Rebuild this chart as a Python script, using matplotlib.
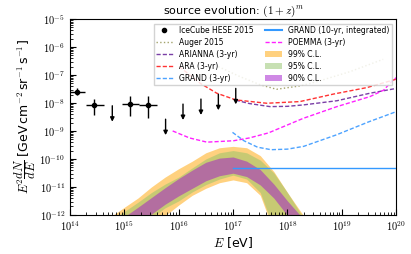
import numpy as np
import matplotlib
matplotlib.use("Agg")
import matplotlib.pyplot as plt
from matplotlib.patches import Patch
from matplotlib.lines import Line2D
from matplotlib.ticker import LogLocator, NullFormatter, FuncFormatter

plt.rcParams['font.family'] = ['DejaVu Sans']
plt.rcParams['mathtext.fontset'] = 'cm'

# IceCube HESE 2015: data points (log10 E [eV], log10 flux)
hese_logE = [14.13, 14.45, 15.11, 15.43]
hese_logE_lo = [14.00, 14.30, 14.96, 15.28]
hese_logE_hi = [14.27, 14.62, 15.27, 15.60]
hese_logF = [-7.60, -8.07, -8.04, -8.06]
hese_logF_lo = [-7.72, -8.43, -8.46, -8.55]
hese_logF_hi = [-7.48, -7.86, -7.75, -7.74]

# IceCube HESE 2015: upper limits
ul_logE = [14.78, 15.76, 16.08, 16.41, 16.73, 17.05]
ul_logF = [-8.10, -8.58, -8.04, -7.86, -7.69, -7.48]
ul_len = 0.57  # decades, arrow length

# sensitivity curves
auger_logE = [16.73, 17.13, 17.50, 17.80, 18.23, 18.54, 19.15, 19.76]
auger_logF = [-6.70, -7.06, -7.35, -7.51, -7.39, -7.24, -6.88, -6.44]

arianna_logE = [17.05, 17.30, 17.68, 18.00, 18.29, 18.91, 19.52, 20.00]
arianna_logF = [-7.90, -8.02, -8.13, -8.12, -8.07, -7.92, -7.65, -7.48]

ara_logE = [16.01, 16.40, 16.70, 17.05, 17.62, 18.23, 18.85, 19.46, 20.00]
ara_logF = [-6.70, -7.30, -7.65, -7.89, -8.01, -7.95, -7.68, -7.45, -7.15]

grand3_logE = [16.99, 17.20, 17.45, 17.70, 18.00, 18.30, 18.90, 19.50, 20.00]
grand3_logF = [-9.05, -9.35, -9.58, -9.67, -9.65, -9.55, -9.14, -8.67, -8.31]

grand10_logE = [17.0, 20.0]
grand10_logF = [-10.33, -10.33]

poemma_logE = [15.89, 16.20, 16.52, 17.01, 17.30, 17.65, 18.29, 18.91, 19.52, 19.77, 19.94, 20.00]
poemma_logF = [-9.00, -9.25, -9.40, -9.35, -9.25, -9.07, -8.55, -8.13, -7.77, -7.54, -7.18, -7.10]

# allowed flux bands (log10 E grid, lower / upper bounds in log10 flux)
band_logE = [14.6, 14.8, 15.0, 15.25, 15.5, 15.75, 16.0, 16.25, 16.5, 16.75,
             17.0, 17.25, 17.5, 17.75, 18.0, 18.25, 18.5]
cl99_hi = [-12.27, -12.0, -11.73, -11.40, -11.0, -10.65, -10.35, -10.08, -9.78, -9.60,
           -9.55, -9.60, -9.88, -10.45, -11.2, -11.9, -12.6]
cl99_lo = [-13.5, -13.3, -13.0, -12.7, -12.35, -12.03, -11.65, -11.3, -11.05, -10.85,
           -10.75, -10.85, -11.3, -12.6, -13.6, -14.0, -14.5]
cl95_hi = [-12.4, -12.15, -11.88, -11.55, -11.2, -10.9, -10.65, -10.32, -10.0, -9.78,
           -9.70, -9.78, -10.04, -10.5, -11.2, -11.97, -12.8]
cl95_lo = [-13.3, -13.05, -12.8, -12.45, -12.1, -11.75, -11.5, -11.18, -10.92, -10.72,
           -10.58, -10.72, -11.2, -12.5, -13.5, -14.0, -14.5]
cl90_hi = [-12.6, -12.33, -12.07, -11.73, -11.38, -11.03, -10.7, -10.4, -10.12, -9.97,
           -9.93, -10.08, -10.38, -10.9, -11.5, -12.05, -12.6]
cl90_lo = [-13.2, -12.95, -12.65, -12.3, -11.97, -11.62, -11.32, -11.05, -10.78, -10.6,
           -10.51, -10.63, -10.93, -11.4, -12.02, -12.7, -13.4]


def p10(a):
    return 10.0 ** np.asarray(a)


c99 = '#ffa500'
c95 = '#91c369'
c90 = '#a014cd'

fig = plt.figure(figsize=(4.11, 2.54), dpi=100)
ax = fig.add_axes([0.170, 0.154, 0.794, 0.771])

bE = p10(band_logE)
ax.fill_between(bE, p10(cl99_lo), p10(cl99_hi), color=c99, alpha=0.5, lw=0, zorder=1)
ax.fill_between(bE, p10(cl95_lo), p10(cl95_hi), color=c95, alpha=0.5, lw=0, zorder=1)
ax.fill_between(bE, p10(cl90_lo), p10(cl90_hi), color=c90, alpha=0.5, lw=0, zorder=1)

# HESE points
E = p10(hese_logE)
F = p10(hese_logF)
xerr = [E - p10(hese_logE_lo), p10(hese_logE_hi) - E]
yerr = [F - p10(hese_logF_lo), p10(hese_logF_hi) - F]
ax.errorbar(E, F, xerr=xerr, yerr=yerr, fmt='o', color='k', ms=3, lw=1, capsize=0, zorder=4)

for le, lf in zip(ul_logE, ul_logF):
    ax.annotate('', xy=(10 ** le, 10 ** (lf - ul_len)), xytext=(10 ** le, 10 ** lf),
                arrowprops=dict(arrowstyle='-|>', color='k', lw=1, mutation_scale=6,
                                shrinkA=0, shrinkB=0), zorder=4)

ax.plot(p10(auger_logE), p10(auger_logF), ':', color='#a3a36b', lw=1, zorder=2)
ax.plot(p10(arianna_logE), p10(arianna_logF), '--', color='#7a3fa6', lw=1, dashes=(3, 1.5), zorder=2)
ax.plot(p10(ara_logE), p10(ara_logF), '--', color='#ff3333', lw=1, dashes=(3, 1.5), zorder=2)
ax.plot(p10(grand3_logE), p10(grand3_logF), '--', color='#4da3ff', lw=1, dashes=(3, 1.5), zorder=2)
ax.plot(p10(grand10_logE), p10(grand10_logF), '-', color='#3399ff', lw=1, zorder=3)
ax.plot(p10(poemma_logE), p10(poemma_logF), '--', color='#ff22ff', lw=1, dashes=(3, 1.5), zorder=2)

ax.set_xscale('log')
ax.set_yscale('log')
ax.set_xlim(1e14, 1e20)
ax.set_ylim(1e-12, 1e-5)

pow_fmt = FuncFormatter(lambda v, p: r'$10^{%d}$' % int(round(np.log10(v))))
for axis in (ax.xaxis, ax.yaxis):
    axis.set_major_locator(LogLocator(base=10, numticks=20))
    axis.set_major_formatter(pow_fmt)
    axis.set_minor_locator(LogLocator(base=10, subs=np.arange(2, 10), numticks=100))
    axis.set_minor_formatter(NullFormatter())
ax.tick_params(which='both', direction='in', labelsize=7.5)
ax.tick_params(which='major', length=4, width=0.8)
ax.tick_params(which='minor', length=2, width=0.6)

ax.set_xlabel(r'$E$ [eV]', fontsize=9, labelpad=1)
ax.set_ylabel(r'$E^2\dfrac{dN}{dE}$ [GeV$\,$cm$^{-2}\,$sr$^{-1}\,$s$^{-1}$]', fontsize=9, labelpad=1)
ax.set_title(r'source evolution: $(1+z)^m$', fontsize=8, pad=3)

handles = [
    Line2D([], [], ls='none', marker='o', color='k', ms=3),
    Line2D([], [], ls=':', color='#a3a36b', lw=1),
    Line2D([], [], ls='--', color='#7a3fa6', lw=1, dashes=(3, 1.5)),
    Line2D([], [], ls='--', color='#ff3333', lw=1, dashes=(3, 1.5)),
    Line2D([], [], ls='--', color='#4da3ff', lw=1, dashes=(3, 1.5)),
    Line2D([], [], ls='-', color='#3399ff', lw=1.5),
    Line2D([], [], ls='--', color='#ff22ff', lw=1, dashes=(3, 1.5)),
    Patch(facecolor=c99, alpha=0.5, lw=0),
    Patch(facecolor=c95, alpha=0.5, lw=0),
    Patch(facecolor=c90, alpha=0.5, lw=0),
]
labels = ['IceCube HESE 2015', 'Auger 2015', 'ARIANNA (3-yr)', 'ARA (3-yr)', 'GRAND (3-yr)',
          'GRAND (10-yr, integrated)', 'POEMMA (3-yr)', '99% C.L.', '95% C.L.', '90% C.L.']
ax.legend(handles, labels, ncol=2, loc='upper right', fontsize=5.5, labelspacing=0.38,
          handlelength=2.2, columnspacing=1.5, borderaxespad=0.6, borderpad=0.3,
          frameon=True, fancybox=False, edgecolor='#cccccc', framealpha=0.85)

fig.savefig('out.png', dpi=100)
